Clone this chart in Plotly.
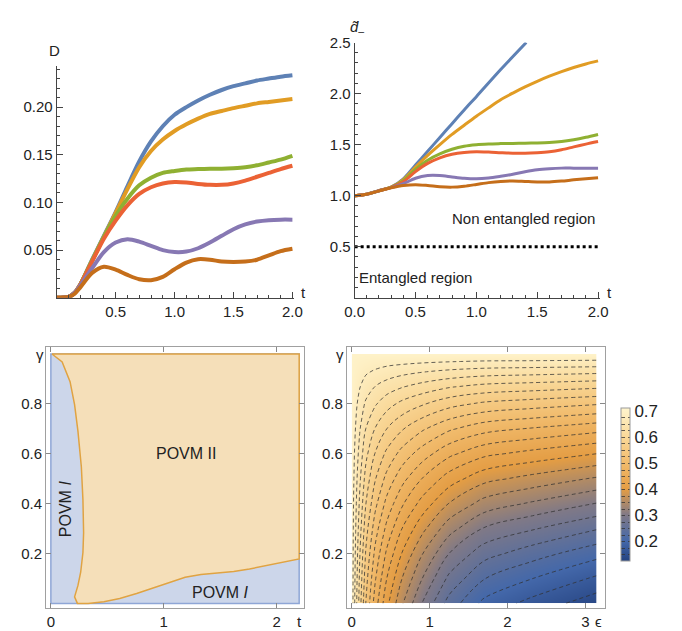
import plotly.graph_objects as go

# ---------------- top-left: D(t) ----------------
t_D = [0, 0.1, 0.15, 0.2, 0.3, 0.4, 0.5, 0.6, 0.7, 0.8, 0.9, 1.0, 1.1, 1.2, 1.3, 1.4, 1.5, 1.6, 1.7, 1.8, 1.9, 2.0]
D_blue   = [0, 0.001, 0.005, 0.014, 0.040, 0.065, 0.090, 0.117, 0.143, 0.164, 0.180, 0.192, 0.200, 0.207, 0.213, 0.218, 0.222, 0.225, 0.228, 0.230, 0.232, 0.2335]
D_orange = [0, 0.001, 0.005, 0.014, 0.039, 0.064, 0.089, 0.114, 0.137, 0.154, 0.166, 0.175, 0.182, 0.188, 0.193, 0.196, 0.199, 0.2015, 0.204, 0.2055, 0.207, 0.2085]
D_green  = [0, 0.001, 0.005, 0.014, 0.039, 0.064, 0.086, 0.104, 0.118, 0.126, 0.131, 0.133, 0.1345, 0.135, 0.1355, 0.1355, 0.136, 0.137, 0.139, 0.142, 0.145, 0.149]
D_red    = [0, 0.001, 0.005, 0.014, 0.038, 0.062, 0.081, 0.097, 0.109, 0.116, 0.120, 0.1215, 0.121, 0.1195, 0.1185, 0.1185, 0.120, 0.123, 0.127, 0.131, 0.135, 0.1385]
D_purple = [0, 0.001, 0.005, 0.013, 0.031, 0.048, 0.058, 0.0615, 0.059, 0.0545, 0.050, 0.048, 0.0485, 0.052, 0.058, 0.065, 0.072, 0.077, 0.080, 0.0815, 0.082, 0.082]
D_brown  = [0, 0.001, 0.004, 0.011, 0.026, 0.0325, 0.0295, 0.024, 0.0195, 0.0185, 0.022, 0.030, 0.037, 0.0405, 0.040, 0.038, 0.0375, 0.038, 0.040, 0.0445, 0.049, 0.0515]

# ---------------- top-right: d~_(t) ----------------
t_d = [0, 0.1, 0.2, 0.3, 0.4, 0.5, 0.6, 0.7, 0.8, 0.9, 1.0, 1.1, 1.2, 1.3, 1.4, 1.5, 1.6, 1.7, 1.8, 1.9, 2.0]
t_blue = [0, 0.1, 0.2, 0.3, 0.4, 0.5, 0.6, 0.7, 0.8, 0.9, 1.0, 1.2, 1.41]
d_blue   = [1.0, 1.015, 1.049, 1.084, 1.165, 1.30, 1.435, 1.57, 1.705, 1.84, 1.97, 2.235, 2.50]
d_orange = [1.0, 1.015, 1.049, 1.084, 1.158, 1.28, 1.395, 1.50, 1.60, 1.69, 1.778, 1.86, 1.94, 2.005, 2.065, 2.12, 2.17, 2.215, 2.255, 2.29, 2.32]
d_green  = [1.0, 1.015, 1.049, 1.083, 1.147, 1.258, 1.348, 1.41, 1.455, 1.485, 1.50, 1.507, 1.51, 1.512, 1.514, 1.516, 1.52, 1.53, 1.548, 1.572, 1.60]
d_red    = [1.0, 1.015, 1.049, 1.082, 1.137, 1.236, 1.316, 1.37, 1.405, 1.423, 1.43, 1.427, 1.421, 1.416, 1.415, 1.42, 1.43, 1.45, 1.478, 1.505, 1.53]
d_purple = [1.0, 1.015, 1.048, 1.079, 1.117, 1.171, 1.197, 1.197, 1.183, 1.17, 1.165, 1.173, 1.19, 1.21, 1.235, 1.255, 1.265, 1.27, 1.27, 1.27, 1.27]
d_brown  = [1.0, 1.015, 1.047, 1.077, 1.100, 1.108, 1.100, 1.088, 1.084, 1.093, 1.11, 1.128, 1.14, 1.145, 1.14, 1.135, 1.135, 1.143, 1.155, 1.165, 1.175]
threshold = 0.5

# ---------------- bottom-left: POVM regions ----------------
left_t = [0.01, 0.10, 0.17, 0.21, 0.24, 0.27, 0.284, 0.29, 0.284, 0.264, 0.24, 0.21, 0.235]
left_g = [1.0, 0.968, 0.889, 0.797, 0.69, 0.547, 0.415, 0.283, 0.204, 0.125, 0.072, 0.026, 0.0]
bottom_t = [0.33, 0.47, 0.61, 0.76, 0.90, 1.05, 1.19, 1.33, 1.48, 1.62, 1.76, 1.91, 2.05, 2.2]
bottom_g = [0.0, 0.007, 0.02, 0.04, 0.062, 0.086, 0.105, 0.116, 0.121, 0.128, 0.138, 0.151, 0.165, 0.178]
t_max = 2.2

# ---------------- bottom-right: contour grid ----------------
eps = [0, 0.02, 0.05, 0.1, 0.18, 0.3, 0.45, 0.65, 0.9, 1.25, 1.7, 2.3, 3.14159]
gam = [0, 0.1, 0.2, 0.3, 0.4, 0.5, 0.6, 0.7, 0.8, 0.87, 0.93, 0.97, 1.0]
zgrid = [
    [0.700, 0.668, 0.638, 0.590, 0.525, 0.463, 0.407, 0.352, 0.300, 0.240, 0.193, 0.167, 0.135],
    [0.700, 0.670, 0.642, 0.597, 0.536, 0.478, 0.425, 0.374, 0.326, 0.269, 0.226, 0.201, 0.171],
    [0.700, 0.672, 0.646, 0.604, 0.548, 0.494, 0.445, 0.398, 0.352, 0.300, 0.260, 0.237, 0.209],
    [0.700, 0.675, 0.651, 0.613, 0.561, 0.512, 0.468, 0.424, 0.383, 0.335, 0.298, 0.278, 0.252],
    [0.700, 0.677, 0.656, 0.622, 0.576, 0.532, 0.492, 0.453, 0.416, 0.374, 0.340, 0.322, 0.299],
    [0.700, 0.680, 0.661, 0.631, 0.591, 0.552, 0.517, 0.483, 0.450, 0.413, 0.383, 0.367, 0.347],
    [0.700, 0.683, 0.667, 0.642, 0.607, 0.574, 0.544, 0.515, 0.488, 0.456, 0.431, 0.417, 0.400],
    [0.700, 0.686, 0.674, 0.653, 0.625, 0.599, 0.575, 0.552, 0.529, 0.504, 0.484, 0.473, 0.459],
    [0.700, 0.690, 0.681, 0.666, 0.646, 0.628, 0.610, 0.593, 0.578, 0.559, 0.545, 0.537, 0.527],
    [0.700, 0.693, 0.687, 0.677, 0.663, 0.650, 0.638, 0.627, 0.616, 0.603, 0.593, 0.588, 0.581],
    [0.700, 0.696, 0.693, 0.687, 0.679, 0.672, 0.665, 0.658, 0.652, 0.645, 0.639, 0.636, 0.632],
    [0.700, 0.698, 0.697, 0.694, 0.691, 0.687, 0.684, 0.682, 0.679, 0.676, 0.673, 0.672, 0.670],
    [0.700, 0.700, 0.700, 0.700, 0.700, 0.700, 0.700, 0.700, 0.700, 0.700, 0.700, 0.700, 0.700],
]
cbar_ticks = [0.2, 0.3, 0.4, 0.5, 0.6, 0.7]

COLORS = ["#5E81B5", "#E19C24", "#8FB032", "#EB6235", "#8778B3", "#C56E1A"]
FONT = "Liberation Sans, Arial, sans-serif"
W, H = 682, 631

def px(x):
    return x / W

def py(y):
    return 1 - y / H

fig = go.Figure()

# top-left
for ys, c in zip([D_blue, D_orange, D_green, D_red, D_purple, D_brown], COLORS):
    fig.add_trace(go.Scatter(x=t_D, y=ys, mode="lines", line=dict(color=c, width=4, shape="spline", smoothing=0.8),
                             xaxis="x", yaxis="y", showlegend=False, hoverinfo="skip"))

# top-right
fig.add_trace(go.Scatter(x=t_blue, y=d_blue, mode="lines", line=dict(color=COLORS[0], width=3, shape="spline", smoothing=0.8),
                         xaxis="x2", yaxis="y2", showlegend=False))
for ys, c in zip([d_orange, d_green, d_red, d_purple, d_brown], COLORS[1:]):
    fig.add_trace(go.Scatter(x=t_d, y=ys, mode="lines", line=dict(color=c, width=3, shape="spline", smoothing=0.8),
                             xaxis="x2", yaxis="y2", showlegend=False))
fig.add_trace(go.Scatter(x=[0, 2.0], y=[threshold, threshold], mode="lines", line=dict(color="black", width=3, dash="dot"),
                         xaxis="x2", yaxis="y2", showlegend=False))

# bottom-left regions
fig.add_trace(go.Scatter(x=[0, t_max, t_max, 0, 0], y=[0, 0, 1, 1, 0], mode="lines", fill="toself",
                         fillcolor="#CCD6EA", line=dict(color="#8EA6D6", width=1.5),
                         xaxis="x3", yaxis="y3", showlegend=False))
poly_x = left_t + bottom_t + [t_max, left_t[0]]
poly_y = left_g + bottom_g + [1.0, left_g[0]]
fig.add_trace(go.Scatter(x=poly_x, y=poly_y, mode="lines", fill="toself",
                         fillcolor="#F5DFB9", line=dict(color="#E0A342", width=1.5),
                         xaxis="x3", yaxis="y3", showlegend=False))

# bottom-right contour
cscale = [
    [0.0, "rgb(36,66,128)"],
    [0.13, "rgb(68,104,170)"],
    [0.30, "rgb(128,121,135)"],
    [0.47, "rgb(228,157,68)"],
    [0.64, "rgb(241,187,108)"],
    [0.81, "rgb(249,216,152)"],
    [1.0, "rgb(255,245,206)"],
]
fig.add_trace(go.Contour(
    x=eps, y=gam, z=zgrid, xaxis="x4", yaxis="y4",
    colorscale=cscale, zmin=0.124, zmax=0.711, zauto=False,
    contours=dict(start=0.15, end=0.675, size=0.025, coloring="heatmap"),
    line=dict(color="rgba(50,50,50,0.75)", width=1, dash="4px,3px", smoothing=1.0),
    colorbar=dict(x=628 / W, xanchor="left", y=py(482.5), yanchor="middle", len=155 / H, lenmode="fraction",
                  xpad=0, ypad=0, thickness=9, outlinewidth=1, outlinecolor="#9a9a9a",
                  tickvals=cbar_ticks, ticktext=["0.2", "0.3", "0.4", "0.5", "0.6", "0.7"],
                  ticks="", tickfont=dict(family=FONT, size=17, color="#222")),
    showscale=True, hoverinfo="skip"))

tickfont = dict(family=FONT, size=15, color="#222")
axis_common = dict(showgrid=False, zeroline=False, showline=True, linecolor="#444", linewidth=1,
                   ticks="inside", ticklen=6, tickcolor="#444", tickfont=tickfont)
minor_x = dict(ticks="inside", ticklen=3, tickcolor="#444", dtick=0.1, tick0=0)

frame_common = dict(showgrid=False, zeroline=False, showline=True, linecolor="#a0a0a0", linewidth=1, mirror="ticks",
                    ticks="inside", ticklen=5, tickcolor="#888", tickfont=tickfont)

BOT, TOP = 608, 343  # frame of the lower panels (pixels)

fig.update_layout(
    width=W, height=H, margin=dict(l=0, r=0, t=0, b=0),
    paper_bgcolor="white", plot_bgcolor="rgba(0,0,0,0)",
    font=dict(family=FONT, color="#222"),
    xaxis=dict(domain=[px(48), px(292)], range=[0, 2.016], anchor="y",
               tickvals=[0.5, 1.0, 1.5, 2.0], ticktext=["0.5", "1.0", "1.5", "2.0"], minor=minor_x, **axis_common),
    yaxis=dict(domain=[py(293), py(58)], range=[0, 0.243], anchor="x",
               tickvals=[0.05, 0.10, 0.15, 0.20], ticktext=["0.05", "0.10", "0.15", "0.20"],
               minor=dict(ticks="inside", ticklen=3, tickcolor="#444", dtick=0.01, tick0=0), **axis_common),
    xaxis2=dict(domain=[px(354), px(606)], range=[0, 2.016], anchor="y2",
                tickvals=[0, 0.5, 1.0, 1.5, 2.0], ticktext=["0.0", "0.5", "1.0", "1.5", "2.0"], minor=minor_x, **axis_common),
    yaxis2=dict(domain=[py(293), py(34)], range=[0, 2.5], anchor="x2",
                tickvals=[0.5, 1.0, 1.5, 2.0, 2.5], ticktext=["0.5", "1.0", "1.5", "2.0", "2.5"],
                minor=dict(ticks="inside", ticklen=3, tickcolor="#444", dtick=0.1, tick0=0), **axis_common),
    xaxis3=dict(domain=[px(37), px(302)], range=[-0.043, 2.243], anchor="y3",
                tickvals=[0, 1, 2], ticktext=["0", "1", "2"], **frame_common),
    yaxis3=dict(domain=[py(BOT), py(TOP)], range=[-0.0198, 1.0277], anchor="x3",
                tickvals=[0.2, 0.4, 0.6, 0.8], ticktext=["0.2", "0.4", "0.6", "0.8"], **frame_common),
    xaxis4=dict(domain=[px(346), px(611)], range=[-0.0625, 3.25], anchor="y4",
                tickvals=[0, 1, 2, 3], ticktext=["0", "1", "2", "3"], **frame_common),
    yaxis4=dict(domain=[py(BOT), py(TOP)], range=[-0.0198, 1.0277], anchor="x4",
                tickvals=[0.2, 0.4, 0.6, 0.8], ticktext=["0.2", "0.4", "0.6", "0.8"], **frame_common),
)

ann_font = dict(family=FONT, size=15, color="#222")
lab_font = dict(family=FONT, size=16, color="#222")

def pann(x, y, text, **kw):
    return dict(x=px(x), y=py(y), xref="paper", yref="paper", text=text, showarrow=False,
                xanchor="center", yanchor="middle", font=kw.pop("font", ann_font), **kw)

annotations = [
    pann(46, 42, "D"),
    pann(301, 288, "t"),
    pann(356, 19, "<i>d\u0303</i><sub>\u2013</sub>"),
    pann(616, 288, "t"),
    pann(31, 351, "γ"),
    pann(297, 621, "t"),
    pann(339, 351, "γ"),
    pann(604, 621, "ϵ"),
    dict(x=1.99, y=0.78, xref="x2", yref="y2", text="Non entangled region", showarrow=False,
         xanchor="right", yanchor="middle", font=ann_font),
    dict(x=0.02, y=0.2, xref="x2", yref="y2", text="Entangled region", showarrow=False,
         xanchor="left", yanchor="middle", font=ann_font),
    dict(x=1.2, y=0.6, xref="x3", yref="y3", text="POVM II", showarrow=False,
         xanchor="center", yanchor="middle", font=lab_font),
    dict(x=0.13, y=0.38, xref="x3", yref="y3", text="POVM <i>I</i>", textangle=-90, showarrow=False,
         xanchor="center", yanchor="middle", font=lab_font),
    dict(x=1.5, y=0.045, xref="x3", yref="y3", text="POVM <i>I</i>", showarrow=False,
         xanchor="center", yanchor="middle", font=lab_font),
]
fig.update_layout(annotations=annotations)

fig.write_html("out.html", config={"displayModeBar": False},
               post_script="document.body.style.margin='0';document.body.style.overflow='hidden';")
